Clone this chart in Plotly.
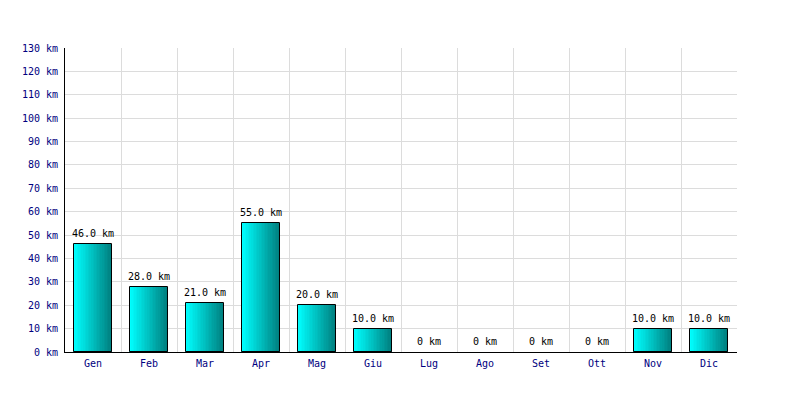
import plotly.graph_objects as go

months = ["Gen", "Feb", "Mar", "Apr", "Mag", "Giu", "Lug", "Ago", "Set", "Ott", "Nov", "Dic"]
km = [46.0, 28.0, 21.0, 55.0, 20.0, 10.0, 0, 0, 0, 0, 10.0, 10.0]
ytick_vals = list(range(0, 131, 10))
ytick_text = [f"{v} km" for v in ytick_vals]

labels = [f"{v:.1f} km" if v else "0 km" for v in km]
xs = list(range(len(months)))

FONT = "DejaVu Sans Mono"
NAVY = "#000080"
W = 0.68
N = 24

fig = go.Figure()

c0 = (0, 255, 255)
c1 = (0, 128, 128)
sw = W / N
for i in range(N):
    t = i / (N - 1)
    col = "rgb(%d,%d,%d)" % tuple(round(a + (b - a) * t) for a, b in zip(c0, c1))
    fig.add_trace(go.Bar(
        x=xs, y=km, width=sw * 1.15, offset=-W / 2 + i * sw,
        marker=dict(color=col, line=dict(width=0)),
        hoverinfo="skip", showlegend=False,
    ))

fig.add_trace(go.Bar(
    x=xs, y=km, width=W, offset=-W / 2,
    marker=dict(color="rgba(0,0,0,0)",
                line=dict(color="black", width=[1 if v else 0 for v in km])),
    showlegend=False,
))

for x, v, lab in zip(xs, km, labels):
    fig.add_annotation(
        x=x, y=v, text=lab, showarrow=False, xanchor="center", yanchor="bottom",
        yshift=3, font=dict(family=FONT, size=10, color="black"),
    )

fig.update_layout(
    width=800, height=400,
    margin=dict(l=57, r=71, t=40, b=56),
    paper_bgcolor="white", plot_bgcolor="white",
    barmode="overlay", bargap=0,
    font=dict(family=FONT, size=10, color=NAVY),
    xaxis=dict(
        range=[-0.5, 11.5], tickvals=xs, ticktext=months,
        showgrid=False, zeroline=False,
        showline=True, linecolor="black", linewidth=1,
        ticks="", tickfont=dict(family=FONT, size=10, color=NAVY),
        minor=dict(tick0=-0.5, dtick=1, showgrid=True, gridcolor="#dcdcdc", gridwidth=1, ticks=""),
        ticklabelstandoff=2,
    ),
    yaxis=dict(
        range=[0, 130], tickvals=ytick_vals, ticktext=ytick_text,
        showgrid=True, gridcolor="#dcdcdc", gridwidth=1, zeroline=False,
        showline=True, linecolor="black", linewidth=1,
        ticks="", tickfont=dict(family=FONT, size=10, color=NAVY),
        ticklabelstandoff=4,
    ),
)

fig.write_html("out.html")
